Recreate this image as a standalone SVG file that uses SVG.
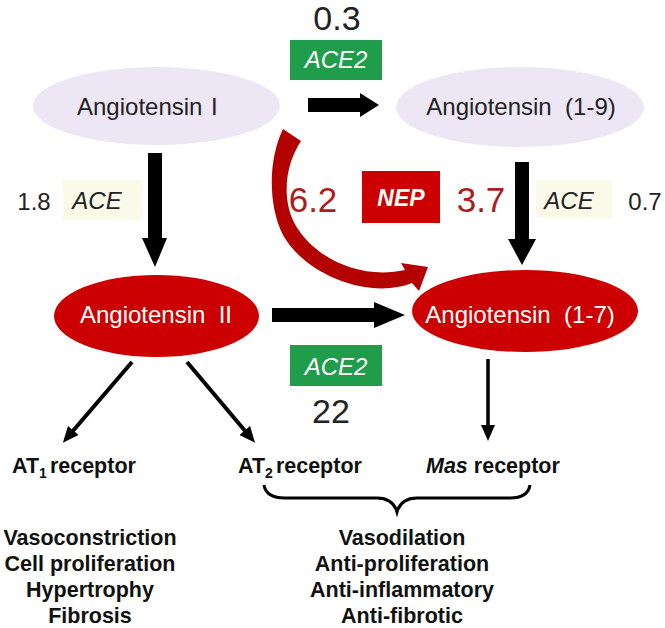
<svg xmlns="http://www.w3.org/2000/svg" width="665" height="628" viewBox="0 0 665 628">
<defs>
<style>
.t{font-family:"Liberation Sans",Arial,sans-serif}
.lbl{font-size:24px;fill:#222}
.wl{font-size:24px;fill:#fff}
.num{font-size:34px;fill:#222}
.rnum{font-size:35px;fill:#ad1c1c}
.enz{font-size:24px;font-style:italic}
.b{font-size:21.5px;font-weight:bold;fill:#111}
.lt{fill:#ede7f5}
.rd{fill:#cc0000}
.gr{fill:#1f9d4b}
.pale{fill:#fafae8}
.thin{stroke:#000;stroke-width:4;fill:none}
</style>
<marker id="ah" markerUnits="userSpaceOnUse" markerWidth="16" markerHeight="14" refX="2" refY="7" orient="auto">
<path d="M0,0 L16,7 L0,14 z" fill="#000"/>
</marker>
</defs>
<rect width="665" height="628" fill="#fff"/>

<g id="connectors">
<polygon points="308,98 360,98 360,93 379,105 360,117 360,112 308,112" fill="#000"/>
<polygon points="148,153 162,153 162,238 167,238 155,267 142,238 148,238" fill="#000"/>
<polygon points="515,162 529,162 529,239 536,239 522,265 508,239 515,239" fill="#000"/>
<polygon points="272,308 374,308 374,302 405,315 374,328 374,322 272,322" fill="#000"/>
<path d="M301,141 C285,165 281,200 296,226 C315,258 360,280 405,270 L401,263 L428,267 L419,291 L412,283 C370,300 305,275 283,235 C268,205 268,160 283,129 Z" fill="#b30000"/>
<line x1="132" y1="362" x2="72" y2="432" class="thin" marker-end="url(#ah)"/>
<line x1="187" y1="362" x2="246" y2="432" class="thin" marker-end="url(#ah)"/>
<line x1="488" y1="359" x2="488" y2="427" stroke="#000" stroke-width="3.5" marker-end="url(#ah)"/>
<path d="M264,485 Q266,498 285,498 L377,498 Q393,498 397,512 Q401,498 417,498 L510,498 Q528,498 530,485" fill="none" stroke="#000" stroke-width="3"/>
</g>

<g id="ang1">
<ellipse cx="156.5" cy="106" rx="123.5" ry="39" class="lt"/>
<text x="77" y="115" class="t lbl">Angiotensin</text>
<text x="211" y="115" class="t lbl">I</text>
</g>
<g id="ang19">
<ellipse cx="520" cy="107" rx="124" ry="40" class="lt"/>
<text x="521" y="115" class="t lbl" text-anchor="middle" xml:space="preserve">Angiotensin  (1-9)</text>
</g>
<g id="ang2">
<ellipse cx="156.5" cy="316" rx="102.5" ry="41" class="rd"/>
<text x="156" y="323" class="t wl" text-anchor="middle" xml:space="preserve">Angiotensin  II</text>
</g>
<g id="ang17">
<ellipse cx="525" cy="311" rx="113" ry="41" class="rd"/>
<text x="520" y="323" class="t wl" text-anchor="middle" xml:space="preserve">Angiotensin  (1-7)</text>
</g>

<g id="ace2-top">
<text x="337" y="30" class="t num" font-size="33" text-anchor="middle">0.3</text>
<rect x="290" y="40" width="92" height="40" class="gr"/>
<text x="336" y="68" class="t enz" fill="#fff" text-anchor="middle">ACE2</text>
</g>
<g id="ace-left">
<text x="34" y="210" class="t lbl" text-anchor="middle">1.8</text>
<rect x="63" y="180" width="79" height="40" class="pale"/>
<text x="97" y="209" class="t enz" fill="#222" text-anchor="middle">ACE</text>
</g>
<g id="nep">
<text x="313" y="212" class="t rnum" text-anchor="middle">6.2</text>
<rect x="362" y="171" width="78" height="52" class="rd"/>
<text x="401" y="206" class="t" font-size="23" font-weight="bold" font-style="italic" fill="#fff" text-anchor="middle">NEP</text>
<text x="481" y="212" class="t rnum" text-anchor="middle">3.7</text>
</g>
<g id="ace-right">
<rect x="536" y="180" width="76" height="38" class="pale"/>
<text x="569" y="209" class="t enz" fill="#222" text-anchor="middle">ACE</text>
<text x="645" y="210" class="t lbl" text-anchor="middle">0.7</text>
</g>
<g id="ace2-bottom">
<rect x="290" y="345" width="92" height="41" class="gr"/>
<text x="336" y="375" class="t enz" fill="#fff" text-anchor="middle">ACE2</text>
<text x="331" y="423" class="t num" font-size="35" text-anchor="middle">22</text>
</g>

<g id="at1">
<text x="12" y="473" class="t b" font-size="21">AT<tspan font-size="14" dy="5">1</tspan><tspan dy="-5" dx="3">receptor</tspan></text>
</g>
<g id="at2">
<text x="238" y="473" class="t b" font-size="21">AT<tspan font-size="14" dy="5">2</tspan><tspan dy="-5" dx="3">receptor</tspan></text>
</g>
<g id="mas">
<text x="426" y="473" class="t b" font-size="21"><tspan font-style="italic">Mas</tspan> receptor</text>
</g>

<g id="effects-left">
<text x="90" y="545" class="t b" text-anchor="middle">Vasoconstriction</text>
<text x="90" y="571" class="t b" text-anchor="middle">Cell proliferation</text>
<text x="90" y="597" class="t b" text-anchor="middle">Hypertrophy</text>
<text x="90" y="623" class="t b" text-anchor="middle">Fibrosis</text>
</g>
<g id="effects-right">
<text x="402" y="545" class="t b" text-anchor="middle">Vasodilation</text>
<text x="402" y="571" class="t b" text-anchor="middle">Anti-proliferation</text>
<text x="402" y="597" class="t b" text-anchor="middle">Anti-inflammatory</text>
<text x="402" y="623" class="t b" text-anchor="middle">Anti-fibrotic</text>
</g>
</svg>
